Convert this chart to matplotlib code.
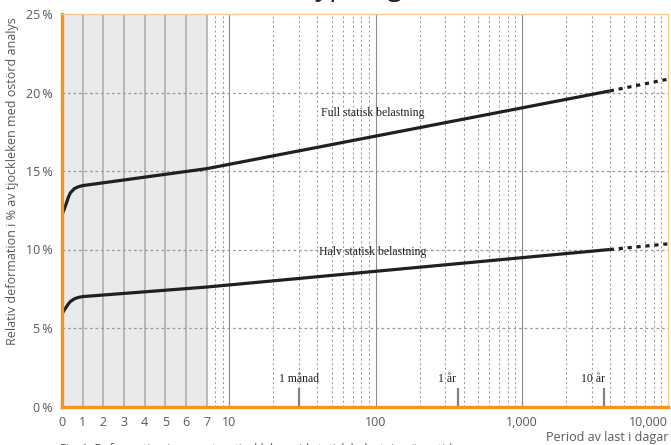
import numpy as np
import matplotlib
matplotlib.use("Agg")
import matplotlib.pyplot as plt

# --- data ---
days_full = [0, 0.1, 0.2, 0.3, 0.4, 0.6, 0.8, 1, 7, 4000]
vals_full = [12.2, 12.55, 12.9, 13.3, 13.6, 13.88, 14.0, 14.07, 15.15, 20.1]
days_full_ext = [4000, 10000]
vals_full_ext = [20.1, 20.85]

days_half = [0, 0.1, 0.2, 0.3, 0.4, 0.6, 0.8, 1, 7, 4000]
vals_half = [5.9, 6.12, 6.32, 6.52, 6.68, 6.86, 6.95, 7.0, 7.61, 10.0]
days_half_ext = [4000, 10000]
vals_half_ext = [10.0, 10.36]

event_days = [30, 365, 3650]
event_labels = ["1 månad", "1 år", "10 år"]

xticks = [0, 1, 2, 3, 4, 5, 6, 7, 10, 100, 1000, 10000]
xticklabels = ["0", "1", "2", "3", "4", "5", "6", "7", "10", "100", "1,000", "10,000"]
yticks = [0, 5, 10, 15, 20, 25]
yticklabels = ["%d\u2009%%" % v for v in yticks]

# --- x scale: linear for 0..7 days, log afterwards ---
K = 0.991  # width of the linear part, in decades

def fwd(x):
    x = np.asarray(x, dtype=float)
    with np.errstate(divide="ignore", invalid="ignore"):
        lg = K + np.log10(np.maximum(x, 7) / 7)
    return np.where(x <= 7, x / 7 * K, lg)

def inv(u):
    u = np.asarray(u, dtype=float)
    with np.errstate(over="ignore"):
        return np.where(u <= K, u * 7 / K, 7 * 10 ** (np.minimum(u, 50) - K))

GREY = "#58595b"
ORANGE = "#f7941d"
PALE = "#f9c98a"
SANS = ["Open Sans", "DejaVu Sans"]
SERIF = "Liberation Serif"

plt.rcParams["font.family"] = SANS

fig = plt.figure(figsize=(6.71, 4.45), dpi=100)
ax = fig.add_axes([62 / 671, 1 - 406.5 / 445, 606 / 671, 392.5 / 445])
ax.set_xscale("function", functions=(fwd, inv))
ax.set_xlim(0, 10000)
ax.set_ylim(0, 25)

# shaded linear region
ax.axvspan(0, 7, color="#e9eaec", zorder=0, lw=0)

# vertical grid
for d in range(1, 8):
    ax.axvline(d, color="#a7a9ac", lw=1.1, zorder=1)
for d in [10, 100, 1000]:
    ax.axvline(d, color="#8a8c8e", lw=0.8, zorder=1)
for dec in [1, 10, 100, 1000]:
    for m in range(2, 10):
        d = m * dec
        if d <= 7:
            continue
        ax.axvline(d, color="#9a9c9f", lw=0.75, ls=(0, (2, 2.5)), zorder=1)

# horizontal grid
for v in [5, 10, 15, 20]:
    ax.axhline(v, color="#9a9a9a", lw=0.9, ls=(0, (2.2, 2.2)), zorder=1)

# curves
ax.plot(days_full, vals_full, color="#231f20", lw=2.3, zorder=3, solid_capstyle="butt")
ax.plot(days_half, vals_half, color="#231f20", lw=2.3, zorder=3, solid_capstyle="butt")
ax.plot(days_full_ext, vals_full_ext, color="#231f20", lw=2.3, ls=(0, (1.3, 1.5)), zorder=3)
ax.plot(days_half_ext, vals_half_ext, color="#231f20", lw=2.3, ls=(0, (1.3, 1.5)), zorder=3)

ax.text(96, 18.72, "Full statisk belastning", family=SERIF, fontsize=8.5,
        color="#231f20", ha="center", va="center", zorder=4)
ax.text(96, 9.85, "Halv statisk belastning", family=SERIF, fontsize=8.5,
        color="#231f20", ha="center", va="center", zorder=4)

# time markers
ax.vlines(event_days, 0, 1.2, color="#808285", lw=1.6, zorder=3)
offsets = [0, -8, -8]
for d, lab, off in zip(event_days, event_labels, offsets):
    ax.annotate(lab, (d, 1.75), xytext=(off, 0), textcoords="offset points",
                family=SERIF, fontsize=8.5, color="#231f20",
                ha="center", va="center", zorder=4)

# spines
ax.spines["left"].set_color(ORANGE)
ax.spines["left"].set_linewidth(2.4)
ax.spines["bottom"].set_color(ORANGE)
ax.spines["bottom"].set_linewidth(2.4)
ax.spines["top"].set_color(PALE)
ax.spines["top"].set_linewidth(0.9)
ax.spines["right"].set_color(PALE)
ax.spines["right"].set_linewidth(0.9)
for s in ax.spines.values():
    s.set_zorder(5)

ax.set_xticks(xticks)
ax.set_xticklabels(xticklabels)
ax.xaxis.set_minor_locator(matplotlib.ticker.NullLocator())
ax.set_yticks(yticks)
ax.set_yticklabels(yticklabels)
ax.tick_params(length=0, labelsize=9, labelcolor=GREY, pad=6.5)
xl = ax.get_xticklabels()
xl[-1].set_horizontalalignment("right")
xl[-1].set_x(10000)

fig.text(13 / 671, 1 - 181.5 / 445, "Relativ deformation i % av tjockleken med ostörd analys",
         rotation=90, ha="center", va="center", fontsize=9, color=GREY)
fig.text(668 / 671, 1 - 437 / 445, "Period av last i dagar", ha="right", va="center",
         fontsize=9, color=GREY)

# title and caption, cut by the picture edges as in the source
fig.text(345 / 671, 1 + 5 / 445, "Krypning", ha="center", va="baseline",
         fontsize=20, color="#231f20")
fig.text(60 / 671, 2.5 / 445, "Fig. 1. Deformation i procent av tjockleken vid statisk belastning över tiden",
         ha="left", va="top", fontsize=8.5, color=GREY)

fig.savefig("out.png", dpi=100)
